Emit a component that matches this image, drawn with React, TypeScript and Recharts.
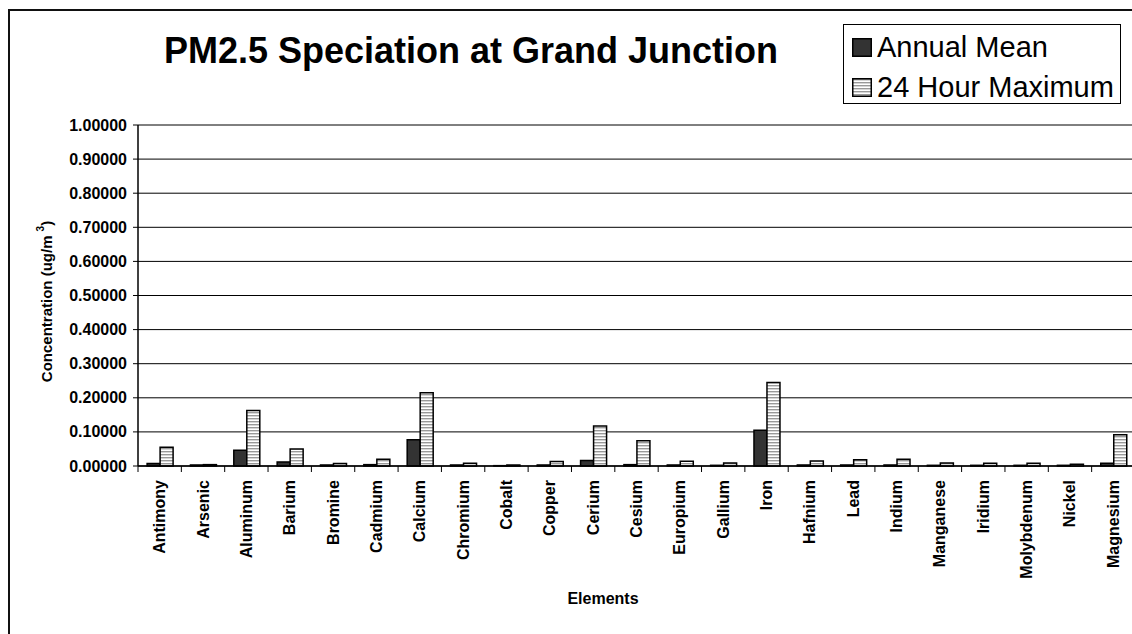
import React from 'react';
import { BarChart, Bar, XAxis, YAxis, CartesianGrid, Legend } from 'recharts';

const elements = [
  'Antimony', 'Arsenic', 'Aluminum', 'Barium', 'Bromine', 'Cadmium', 'Calcium', 'Chromium',
  'Cobalt', 'Copper', 'Cerium', 'Cesium', 'Europium', 'Gallium', 'Iron', 'Hafnium',
  'Lead', 'Indium', 'Manganese', 'Iridium', 'Molybdenum', 'Nickel', 'Magnesium',
];

const annualMean = [
  0.007, 0.003, 0.046, 0.012, 0.003, 0.004, 0.077, 0.003,
  0.001, 0.003, 0.016, 0.004, 0.003, 0.002, 0.105, 0.003,
  0.003, 0.003, 0.002, 0.002, 0.002, 0.002, 0.008,
];

const dayMax = [
  0.055, 0.004, 0.163, 0.050, 0.007, 0.020, 0.215, 0.008,
  0.003, 0.013, 0.117, 0.074, 0.014, 0.009, 0.245, 0.015,
  0.018, 0.020, 0.009, 0.008, 0.008, 0.005, 0.092,
];

const yTicks = [0, 0.1, 0.2, 0.3, 0.4, 0.5, 0.6, 0.7, 0.8, 0.9, 1.0];

const seriesNames = ['Annual Mean', '24 Hour Maximum'];

const data = elements.map((name, i) => ({ name, mean: annualMean[i], max: dayMax[i] }));

const FONT = '"Liberation Sans", Arial, Helvetica, sans-serif';
const PLOT_LEFT = 138;
const PLOT_RIGHT = 1135;
const BAND = (PLOT_RIGHT - PLOT_LEFT) / elements.length;
const X_TICK_SIZE = 6;
const X_TICK_MARGIN = 8;

// excel style: tick marks sit between categories, labels rotated
const XTick = (props: any) => {
  const { x, y, payload, index } = props;
  const axisY = y - X_TICK_SIZE - X_TICK_MARGIN;
  const left = x - BAND / 2;
  return (
    <g>
      <line x1={left} x2={left} y1={axisY} y2={axisY + X_TICK_SIZE} stroke="#000" />
      {index === elements.length - 1 && (
        <line x1={x + BAND / 2} x2={x + BAND / 2} y1={axisY} y2={axisY + X_TICK_SIZE} stroke="#000" />
      )}
      <text
        x={x}
        y={y}
        transform={`rotate(-90 ${x} ${y})`}
        textAnchor="end"
        dominantBaseline="central"
        fontFamily={FONT}
        fontWeight="bold"
        fontSize={16}
        fill="#000"
      >
        {payload.value}
      </text>
    </g>
  );
};

const YTick = (props: any) => {
  const { x, y, payload } = props;
  return (
    <text
      x={x}
      y={y}
      textAnchor="end"
      dominantBaseline="central"
      fontFamily={FONT}
      fontWeight="bold"
      fontSize={16}
      fill="#000"
    >
      {Number(payload.value).toFixed(5)}
    </text>
  );
};

const YLabel = (props: any) => {
  const vb = props.viewBox || { x: 48, y: 125, width: 90, height: 341 };
  const cx = 46;
  const cy = vb.y + vb.height / 2 + 6;
  return (
    <text
      x={cx}
      y={cy}
      transform={`rotate(-90 ${cx} ${cy})`}
      textAnchor="middle"
      dominantBaseline="central"
      fontFamily={FONT}
      fontWeight="bold"
      fontSize={15}
      fill="#000"
    >
      Concentration (ug/m <tspan fontSize={10} dy={-6}>3</tspan>
      <tspan dy={6}>)</tspan>
    </text>
  );
};

const XLabel = () => (
  <text x={603} y={604} textAnchor="middle" fontFamily={FONT} fontWeight="bold" fontSize={16} fill="#000">
    Elements
  </text>
);

const LegendBox = () => (
  <div
    style={{
      boxSizing: 'border-box',
      width: 278,
      height: 80,
      border: '1px solid #000',
      background: '#fff',
      padding: '2px 0 0 8px',
      fontFamily: FONT,
      whiteSpace: 'nowrap',
    }}
  >
    {seriesNames.map((name, i) => (
      <div key={name} style={{ display: 'flex', alignItems: 'center', height: 40 }}>
        <svg width={20} height={19} style={{ marginRight: 5, flex: 'none' }}>
          <defs>
            <pattern id="legStripe" width={4} height={3} patternUnits="userSpaceOnUse">
              <rect width={4} height={3} fill="#fff" />
              <rect y={1} width={4} height={1.4} fill="#999" />
            </pattern>
          </defs>
          <rect
            x={0.75}
            y={0.75}
            width={18.5}
            height={17.5}
            fill={i === 0 ? '#333' : 'url(#legStripe)'}
            stroke="#000"
            strokeWidth={1.5}
          />
        </svg>
        <span style={{ fontSize: 29, lineHeight: 1, color: '#000' }}>{name}</span>
      </div>
    ))}
  </div>
);

export default function App() {
  return (
    <div style={{ position: 'absolute', left: 0, top: 0, width: 1132, height: 634, overflow: 'hidden', background: '#fff' }}>
      <div
        style={{
          position: 'absolute',
          left: 8,
          top: 9,
          width: 1140,
          height: 700,
          boxSizing: 'border-box',
          borderTop: '2px solid #111',
          borderLeft: '2px solid #111',
        }}
      />
      <div style={{ position: 'absolute', left: 0, top: 0 }}>
        <BarChart
          width={1140}
          height={634}
          data={data}
          margin={{ top: 125, right: 1140 - PLOT_RIGHT, bottom: 48, left: 48 }}
          barCategoryGap="21%"
          barGap={0}
        >
          <defs>
            <pattern id="hStripe" width={4} height={3} patternUnits="userSpaceOnUse">
              <rect width={4} height={3} fill="#fff" />
              <rect y={1} width={4} height={1.4} fill="#999" />
            </pattern>
          </defs>
          <text x={471} y={63} textAnchor="middle" fontFamily={FONT} fontWeight="bold" fontSize={36} fill="#000">
            PM2.5 Speciation at Grand Junction
          </text>
          <CartesianGrid vertical={false} stroke="#000" strokeWidth={1} />
          <XAxis
            dataKey="name"
            interval={0}
            height={120}
            axisLine={{ stroke: '#000', strokeWidth: 1.5 }}
            tickLine={{ stroke: 'none' }}
            tickSize={X_TICK_SIZE}
            tickMargin={X_TICK_MARGIN}
            tick={<XTick />}
            label={<XLabel />}
          />
          <YAxis
            domain={[0, 1]}
            ticks={yTicks}
            width={90}
            axisLine={{ stroke: '#000', strokeWidth: 1.5 }}
            tickLine={{ stroke: '#000' }}
            tickSize={5}
            tickMargin={6}
            tick={<YTick />}
            label={<YLabel />}
          />
          <Legend
            layout="horizontal"
            verticalAlign="middle"
            align="center"
            content={<LegendBox />}
            wrapperStyle={{ position: 'absolute', left: 843, top: 24, width: 278, height: 80 }}
          />
          <Bar dataKey="mean" name={seriesNames[0]} fill="#333" stroke="#000" strokeWidth={1.5} isAnimationActive={false} />
          <Bar dataKey="max" name={seriesNames[1]} fill="url(#hStripe)" stroke="#000" strokeWidth={1.5} isAnimationActive={false} />
        </BarChart>
      </div>
    </div>
  );
}
